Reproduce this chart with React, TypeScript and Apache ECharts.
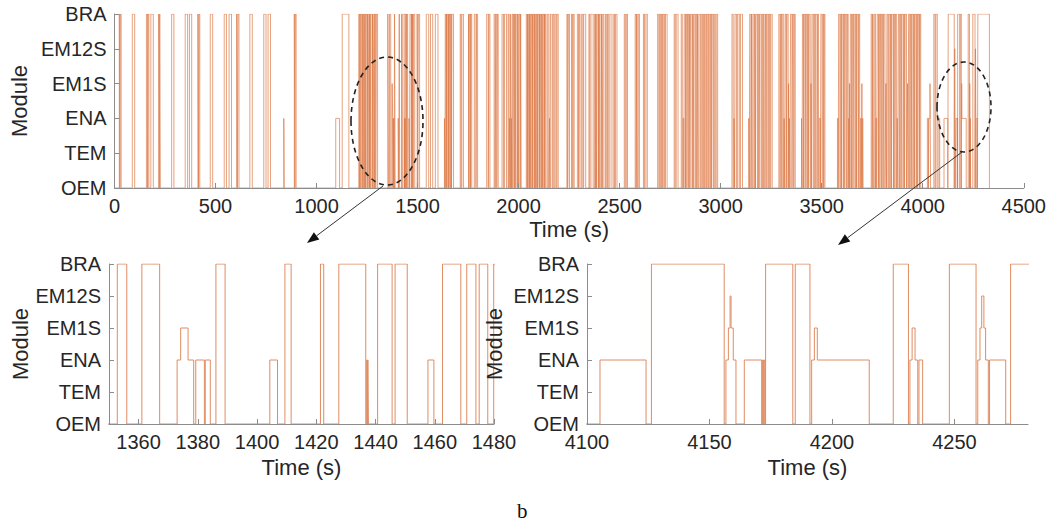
import React, { useEffect, useRef } from "react";
import * as echarts from "echarts";

// ---------- data ----------
const moduleLabels = ["OEM", "TEM", "ENA", "EM1S", "EM12S", "BRA"];
const topTicks = [0, 500, 1000, 1500, 2000, 2500, 3000, 3500, 4000, 4500];
const leftTicks = [1360, 1380, 1400, 1420, 1440, 1460, 1480];
const rightTicks = [4100, 4150, 4200, 4250];

type Seg = [number, number, number]; // [start (s), end (s), module level]

const earlySegs: Seg[] = [
  [24, 27, 5], [29, 33, 5], [88, 100, 5], [158, 164, 5], [166, 170, 5], [180, 192, 5],
  [219, 222, 5], [224, 227, 5], [283, 294, 5], [350, 362, 5], [371, 382, 5], [413, 416, 5],
  [418, 422, 5], [474, 486, 5], [543, 554, 5], [567, 579, 5], [605, 608, 5], [611, 616, 5],
  [670, 682, 5], [739, 750, 5], [760, 772, 5], [838, 840, 2], [890, 893, 5], [895, 899, 5],
  [1095, 1114, 2], [1127, 1160, 5],
  [1209, 1213, 5], [1215, 1219, 5], [1221, 1226, 5], [1229, 1231, 5], [1233, 1238, 5],
  [1240, 1242, 5], [1245, 1250, 5], [1252, 1255, 5], [1258, 1262, 5], [1264, 1266, 5],
  [1268, 1275, 5], [1277, 1280, 5], [1283, 1287, 5], [1289, 1293, 5], [1296, 1302, 5],
];

const zoomLeftSegs: Seg[] = [
  [1352.8, 1356.0, 5], [1361.1, 1367.1, 5], [1373.0, 1374.2, 2], [1374.2, 1376.7, 3],
  [1376.7, 1378.6, 2], [1379.3, 1382.2, 2], [1382.5, 1384.2, 2], [1386.1, 1389.2, 5],
  [1404.3, 1406.9, 2], [1409.4, 1411.5, 5], [1421.4, 1422.5, 5], [1427.6, 1436.7, 5],
  [1437.0, 1437.3, 2], [1437.4, 1437.6, 2], [1440.7, 1445.6, 5], [1446.6, 1450.7, 5],
  [1457.7, 1459.7, 2], [1462.6, 1468.8, 5], [1470.8, 1473.9, 5], [1475.0, 1477.9, 5],
  [1479.9, 1486.0, 5],
];

const midSegs: Seg[] = [
  [1498, 1501, 5], [1504, 1510, 5], [1543, 1555, 5], [1564, 1575, 5], [1588, 1601, 5],
  [1633, 1636, 2], [1637, 1641, 5], [1643, 1645, 5], [1647, 1652, 5], [1654, 1656, 5],
  [1658, 1664, 5], [1666, 1668, 5], [1670, 1678, 5], [1711, 1715, 5], [1719, 1727, 5],
  [1752, 1755, 5], [1757, 1762, 5], [1764, 1768, 5], [1781, 1789, 5], [1792, 1797, 5],
  [1842, 1850, 5], [1853, 1858, 5], [1879, 1884, 5], [1887, 1892, 5], [1895, 1899, 5],
  [1918, 1925, 5], [1930, 1940, 5],
  [1948, 1952, 5], [1955, 1958, 2], [1959, 1962, 5], [1964, 1966, 2], [1968, 1972, 5],
  [1975, 1980, 5], [1983, 1986, 5], [1988, 1994, 5], [1997, 2000, 5], [2003, 2008, 5],
  [2010, 2013, 5],
  [2038, 2043, 5], [2045, 2047, 5], [2050, 2054, 5], [2056, 2058, 5], [2061, 2066, 5],
  [2068, 2070, 5], [2073, 2078, 5], [2080, 2083, 5], [2085, 2090, 5], [2092, 2094, 5],
  [2097, 2102, 5], [2104, 2106, 5], [2109, 2114, 5], [2116, 2119, 5], [2121, 2126, 5],
  [2128, 2130, 5], [2132, 2136, 5],
  [2144, 2150, 5], [2153, 2156, 2], [2158, 2166, 5], [2170, 2175, 5], [2180, 2186, 5],
  [2190, 2196, 5],
  [2239, 2243, 5], [2246, 2252, 5], [2262, 2266, 5], [2270, 2275, 5], [2291, 2297, 5],
  [2300, 2304, 5], [2312, 2318, 5], [2322, 2332, 5], [2348, 2352, 5], [2358, 2369, 5],
  [2376, 2381, 5], [2383, 2386, 5], [2389, 2395, 5], [2397, 2399, 5], [2401, 2408, 5],
  [2411, 2414, 5], [2417, 2422, 5], [2430, 2436, 5], [2440, 2446, 5], [2452, 2462, 5],
  [2471, 2475, 5], [2480, 2487, 5], [2523, 2528, 5], [2533, 2539, 5], [2577, 2582, 5],
  [2585, 2588, 5], [2592, 2598, 5], [2618, 2623, 5], [2630, 2637, 5], [2688, 2694, 5],
  [2698, 2703, 5], [2707, 2712, 5], [2716, 2722, 5], [2727, 2735, 5], [2770, 2775, 5],
  [2780, 2789, 5], [2805, 2810, 5], [2814, 2818, 2], [2820, 2826, 5], [2829, 2833, 5],
  [2836, 2842, 5], [2845, 2848, 5], [2851, 2858, 5], [2862, 2864, 5], [2867, 2873, 5],
  [2877, 2882, 5], [2885, 2888, 5], [2892, 2899, 5], [2903, 2908, 5], [2912, 2916, 5],
  [2920, 2926, 5], [2930, 2936, 5], [2940, 2946, 5], [2950, 2955, 5], [2958, 2964, 5],
  [2968, 2973, 5], [2978, 2985, 5],
  [3056, 3062, 5], [3066, 3069, 2], [3071, 3078, 5], [3084, 3092, 5], [3098, 3108, 5],
  [3139, 3142, 2], [3144, 3150, 5], [3153, 3156, 5], [3160, 3166, 5], [3170, 3172, 5],
  [3175, 3182, 5], [3186, 3190, 5], [3193, 3200, 5], [3204, 3208, 5], [3212, 3219, 5],
  [3222, 3226, 5], [3230, 3236, 5], [3240, 3244, 5], [3248, 3255, 5],
  [3288, 3294, 5], [3297, 3301, 5], [3305, 3312, 5], [3314, 3317, 2], [3320, 3325, 5],
  [3328, 3334, 5], [3336, 3338, 3], [3340, 3343, 2], [3346, 3353, 5], [3356, 3362, 5],
  [3364, 3369, 5],
  [3400, 3403, 2], [3405, 3410, 5], [3413, 3418, 5], [3421, 3426, 5], [3430, 3434, 5],
  [3437, 3443, 5], [3447, 3449, 3], [3452, 3458, 5], [3462, 3466, 5], [3470, 3477, 5],
  [3480, 3484, 5], [3488, 3494, 2], [3496, 3502, 5], [3506, 3510, 5], [3512, 3516, 5],
  [3578, 3582, 2], [3584, 3590, 5], [3594, 3598, 5], [3601, 3607, 5], [3610, 3614, 5],
  [3617, 3624, 5], [3627, 3631, 5], [3634, 3636, 2], [3638, 3640, 3], [3642, 3648, 5],
  [3651, 3655, 5], [3658, 3664, 5], [3668, 3672, 5], [3675, 3681, 5], [3684, 3688, 5],
  [3692, 3696, 2], [3699, 3701, 3], [3703, 3705, 2],
  [3745, 3750, 5], [3753, 3756, 5], [3760, 3766, 5], [3768, 3772, 2], [3775, 3781, 5],
  [3784, 3788, 5], [3791, 3797, 5], [3800, 3804, 5], [3807, 3813, 5], [3816, 3818, 2],
  [3818, 3821, 3], [3823, 3828, 5], [3832, 3838, 5], [3841, 3845, 5], [3848, 3855, 5],
  [3858, 3862, 5], [3865, 3871, 5], [3874, 3877, 2], [3880, 3886, 5], [3889, 3893, 5],
  [3896, 3903, 5], [3906, 3910, 5], [3913, 3920, 5], [3923, 3925, 2], [3925, 3928, 3],
  [3930, 3936, 5], [3939, 3943, 5], [3946, 3952, 5], [3955, 3959, 5], [3962, 3968, 5],
  [3971, 3975, 5], [3978, 3984, 5], [3986, 3990, 5],
  [4023, 4028, 2], [4030, 4036, 2], [4036, 4039, 3], [4055, 4061, 5], [4065, 4072, 5],
  [4080, 4084, 2],
];

const zoomRightSegs: Seg[] = [
  [4105.3, 4124.1, 2], [4126.3, 4156.0, 5], [4156.7, 4157.7, 2], [4157.7, 4158.4, 3],
  [4158.4, 4158.8, 4], [4158.8, 4159.7, 3], [4159.7, 4160.8, 2], [4164.2, 4171.3, 2],
  [4171.6, 4172.0, 2], [4172.3, 4172.6, 2], [4172.9, 4184.0, 5], [4185.0, 4191.0, 5],
  [4191.7, 4192.8, 2], [4192.8, 4194.0, 3], [4194.0, 4215.2, 2], [4225.0, 4231.2, 5],
  [4231.8, 4232.7, 2], [4232.7, 4233.9, 3], [4233.9, 4235.0, 2], [4235.5, 4237.0, 2],
  [4247.9, 4258.8, 5], [4259.5, 4260.4, 2], [4260.4, 4261.1, 3], [4261.1, 4262.0, 4],
  [4262.0, 4262.7, 3], [4262.7, 4263.8, 2], [4264.3, 4270.9, 2], [4272.9, 4330.0, 5],
];

// ---------- helpers ----------
function toSteps(segs: Seg[], t0: number): number[][] {
  const pts: number[][] = [[t0, 0]];
  let cur = 0;
  let lastEnd = t0;
  for (const [s, e, l] of segs) {
    if (s > lastEnd && cur !== 0) {
      pts.push([lastEnd, cur], [lastEnd, 0]);
      cur = 0;
    }
    pts.push([s, cur], [s, l]);
    cur = l;
    lastEnd = e;
  }
  pts.push([lastEnd, cur], [lastEnd, 0]);
  return pts;
}

const FONT = "'Liberation Sans', Arial, sans-serif";
const AXIS_GRAY = "#8c8c8c";
const TXT = "#262626";

function xAxisCfg(gridIndex: number, min: number, max: number, ticks: number[], nameGap: number) {
  return {
    type: "value",
    gridIndex,
    min,
    max,
    z: 5,
    name: "Time (s)",
    nameLocation: "middle",
    nameGap,
    nameTextStyle: { fontSize: 22, color: TXT, fontFamily: FONT },
    axisLine: { show: true, onZero: false, lineStyle: { color: AXIS_GRAY, width: 1 } },
    axisTick: { show: true, inside: true, length: 5, customValues: ticks, lineStyle: { color: AXIS_GRAY } },
    axisLabel: {
      customValues: ticks,
      fontSize: 20,
      color: TXT,
      fontFamily: FONT,
      margin: 8,
      formatter: (v: number) => String(v),
    },
    splitLine: { show: false },
  };
}

function yAxisCfg(gridIndex: number, nameGap: number) {
  return {
    type: "value",
    gridIndex,
    min: 0,
    max: 5,
    interval: 1,
    z: 5,
    name: "Module",
    nameLocation: "middle",
    nameGap,
    nameTextStyle: { fontSize: 22, color: TXT, fontFamily: FONT },
    axisLine: { show: true, onZero: false, lineStyle: { color: AXIS_GRAY, width: 1 } },
    axisTick: { show: true, inside: true, length: 5, lineStyle: { color: AXIS_GRAY } },
    axisLabel: {
      fontSize: 20,
      color: TXT,
      fontFamily: FONT,
      margin: 8,
      formatter: (v: number) => moduleLabels[Math.round(v)] ?? "",
    },
    splitLine: { show: false },
  };
}

function arrow(x1: number, y1: number, x2: number, y2: number) {
  const ang = Math.atan2(y2 - y1, x2 - x1);
  const len = 12;
  const w = 4.5;
  const bx = x2 - len * Math.cos(ang);
  const by = y2 - len * Math.sin(ang);
  const px = -Math.sin(ang) * w;
  const py = Math.cos(ang) * w;
  return [
    { type: "line", shape: { x1, y1, x2: bx, y2: by }, style: { stroke: "#333", lineWidth: 1 } },
    {
      type: "polygon",
      shape: { points: [[x2, y2], [bx + px, by + py], [bx - px, by - py]] },
      style: { fill: "#111" },
    },
  ];
}

export default function App() {
  const ref = useRef<HTMLDivElement>(null);
  useEffect(() => {
    if (!ref.current) return;
    const chart = echarts.init(ref.current, undefined, { renderer: "svg" });
    const topData = toSteps([...earlySegs, ...zoomLeftSegs, ...midSegs, ...zoomRightSegs], 0);
    const leftData = toSteps(zoomLeftSegs, 1340);
    const rightData = toSteps(zoomRightSegs, 4090);
    const lineStyleTop = { color: "#dc7a48", width: 0.7 };
    const lineStyleBottom = { color: "#e08c62", width: 1 };
    chart.setOption({
      animation: false,
      backgroundColor: "#ffffff",
      grid: [
        { left: 111, top: 14, width: 918, height: 174 },
        { left: 109, top: 264, width: 385, height: 160 },
        { left: 587, top: 264, width: 441, height: 160 },
      ],
      xAxis: [
        xAxisCfg(0, 0, 4500, topTicks, 30),
        xAxisCfg(1, 1350, 1480, leftTicks, 32),
        xAxisCfg(2, 4100, 4280, rightTicks, 32),
      ],
      yAxis: [yAxisCfg(0, 77), yAxisCfg(1, 76), yAxisCfg(2, 82)],
      series: [
        { type: "line", xAxisIndex: 0, yAxisIndex: 0, data: topData, showSymbol: false, silent: true, lineStyle: lineStyleTop, clip: true, z: 2 },
        { type: "line", xAxisIndex: 1, yAxisIndex: 1, data: leftData, showSymbol: false, silent: true, lineStyle: lineStyleBottom, clip: true, z: 2 },
        { type: "line", xAxisIndex: 2, yAxisIndex: 2, data: rightData, showSymbol: false, silent: true, lineStyle: lineStyleBottom, clip: true, z: 2 },
      ],
      graphic: [
        {
          type: "ellipse",
          shape: { cx: 387, cy: 121, rx: 36, ry: 64 },
          style: { fill: "none", stroke: "#222", lineWidth: 1.6, lineDash: [5, 4] },
          z: 100,
        },
        {
          type: "ellipse",
          shape: { cx: 964, cy: 107, rx: 27, ry: 45 },
          style: { fill: "none", stroke: "#222", lineWidth: 1.6, lineDash: [5, 4] },
          z: 100,
        },
        ...arrow(383, 186, 307, 243).map((g) => ({ ...g, z: 100 })),
        ...arrow(962, 152, 838, 245).map((g) => ({ ...g, z: 100 })),
        {
          type: "text",
          left: 517,
          top: 500,
          style: { text: "b", fontSize: 21, fontFamily: "'Liberation Serif', 'Times New Roman', serif", fill: "#111" },
          z: 100,
        },
      ],
    });
    return () => chart.dispose();
  }, []);
  return (
    <div
      ref={ref}
      style={{ position: "fixed", left: 0, top: 0, width: 1049, height: 521, background: "#fff" }}
    />
  );
}
